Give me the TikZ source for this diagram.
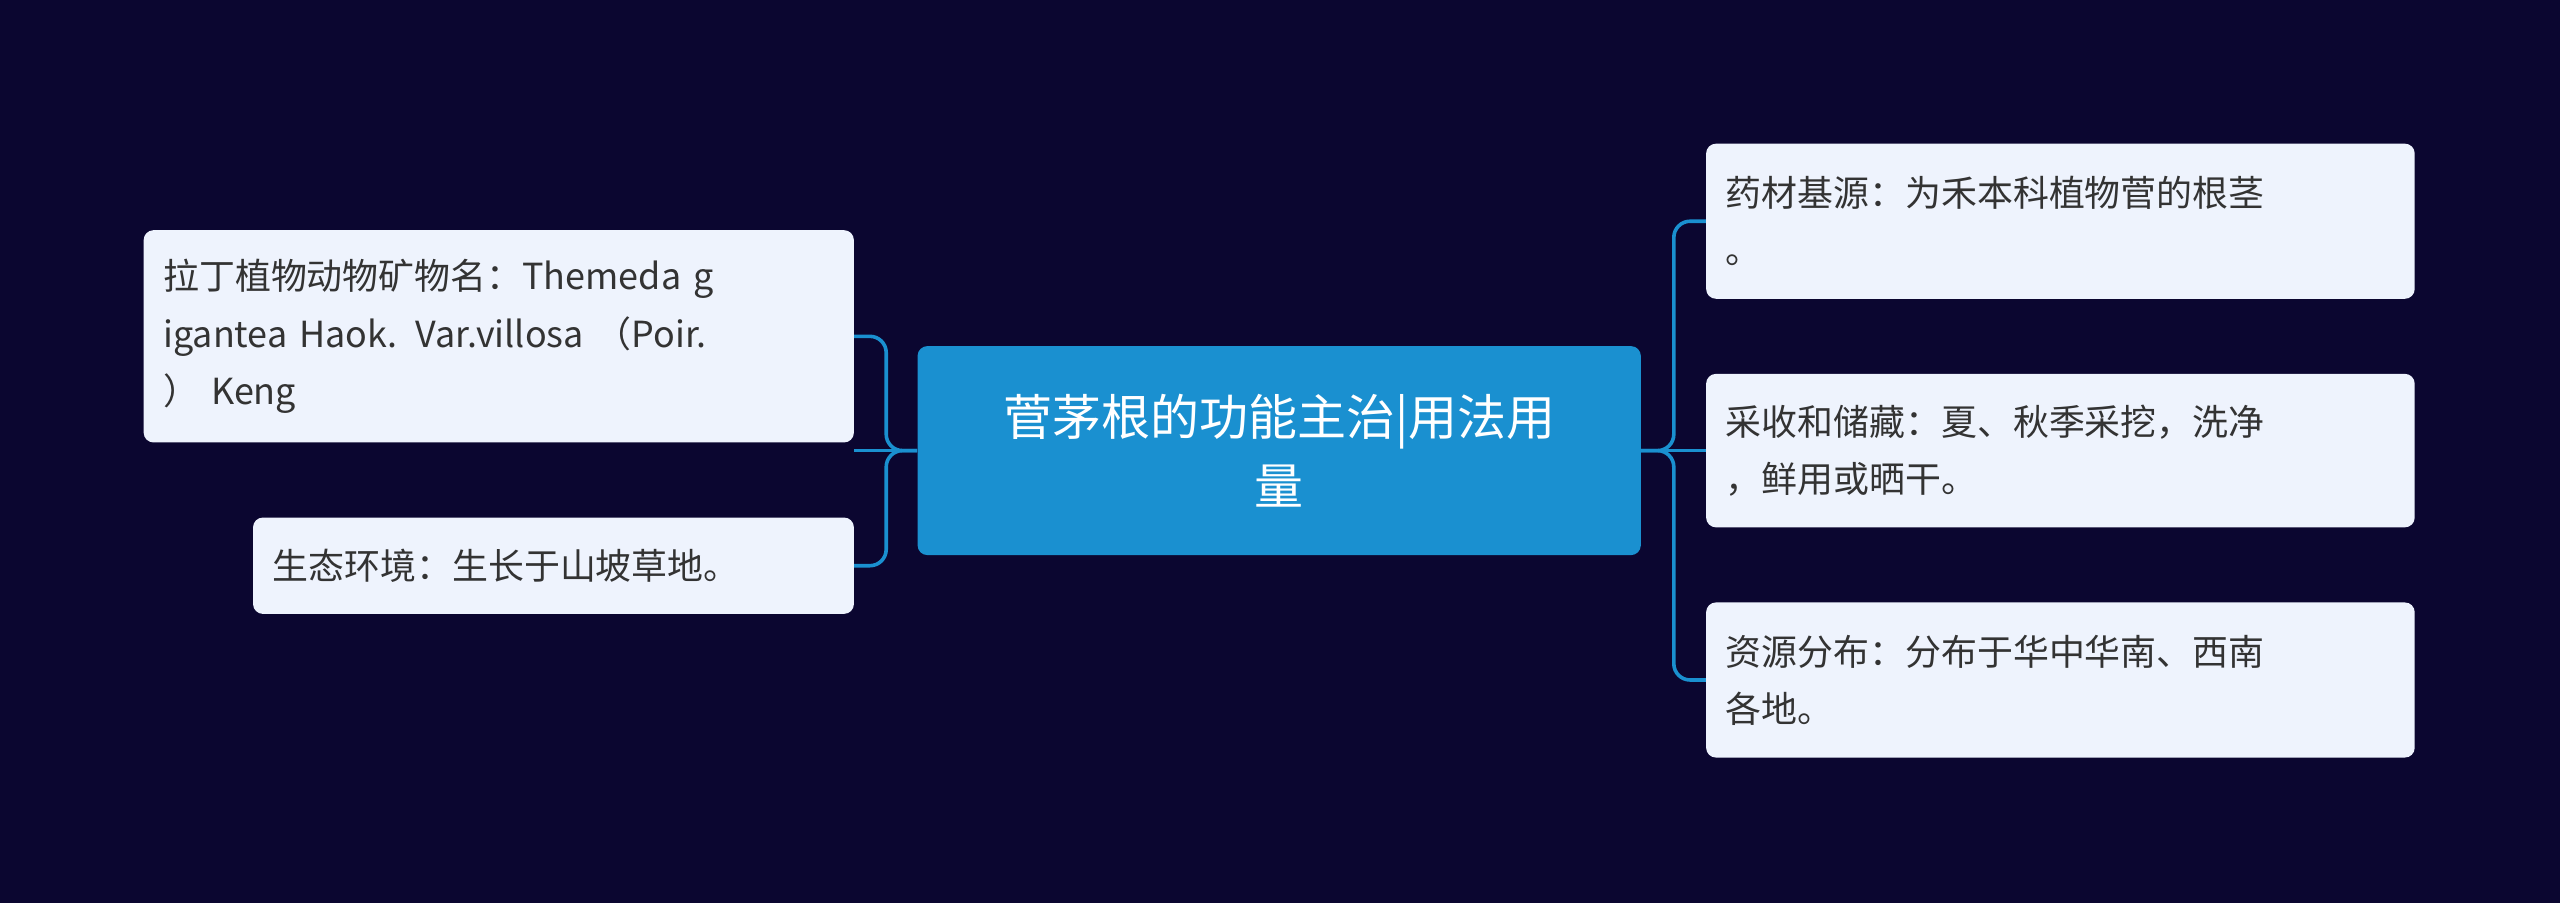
\documentclass[tikz,border=0pt]{standalone}
\usepackage{fontspec}
\setmainfont{Noto Sans CJK SC}
\begin{document}
\begin{tikzpicture}[x=1pt,y=-1pt,
  box/.style={draw=none,fill=boxfill,rounded corners=6pt,align=left,inner xsep=12pt,inner ysep=0pt,font=\fontsize{22}{35}\selectfont,text=txt},
  link/.style={draw=linkc,line width=2.2pt,rounded corners=10pt}]
\definecolor{bg}{HTML}{0B0630}
\definecolor{boxfill}{HTML}{EEF3FD}
\definecolor{txt}{HTML}{333333}
\definecolor{mainc}{HTML}{1A90D0}
\definecolor{linkc}{HTML}{1A90D0}
\fill[bg] (0,0) rectangle (1568,553);
\useasboundingbox (0,0) rectangle (1568,553);
\node[box,fill=mainc,text=white,align=center,minimum width=443pt,minimum height=128pt,text width=419pt,font=\fontsize{30}{42}\selectfont] (c) at (783.5,276) {菅茅根的功能主治|用法用\\量};
\node[box,minimum width=435pt,minimum height=130pt,text width=411pt] (l1) at (305.5,206) {拉丁植物动物矿物名：Themeda g\\igantea Haok. Var.villosa （Poir.\\） Keng};
\node[box,minimum width=368pt,minimum height=59pt,text width=344pt] (l2) at (339,346.5) {生态环境：生长于山坡草地。};
\node[box,minimum width=434pt,minimum height=95pt,text width=410pt] (r1) at (1262,135.5) {药材基源：为禾本科植物菅的根茎\\。};
\node[box,minimum width=434pt,minimum height=94pt,text width=410pt] (r2) at (1262,276) {采收和储藏：夏、秋季采挖，洗净\\，鲜用或晒干。};
\node[box,minimum width=434pt,minimum height=95pt,text width=410pt] (r3) at (1262,416.5) {资源分布：分布于华中华南、西南\\各地。};
\draw[link] (c.west) -- (l1.east |- c.west) ++(20,0) coordinate (lx);
\draw[link] (c.west) -- ++(-19,0) |- (l1.east);
\draw[link] (c.west) -- ++(-19,0) |- (l2.east);
\draw[link] (c.east) -- ++(20,0) |- (r1.west);
\draw[link] (c.east) -- (r2.west);
\draw[link] (c.east) -- ++(20,0) |- (r3.west);
\end{tikzpicture}
\end{document}
